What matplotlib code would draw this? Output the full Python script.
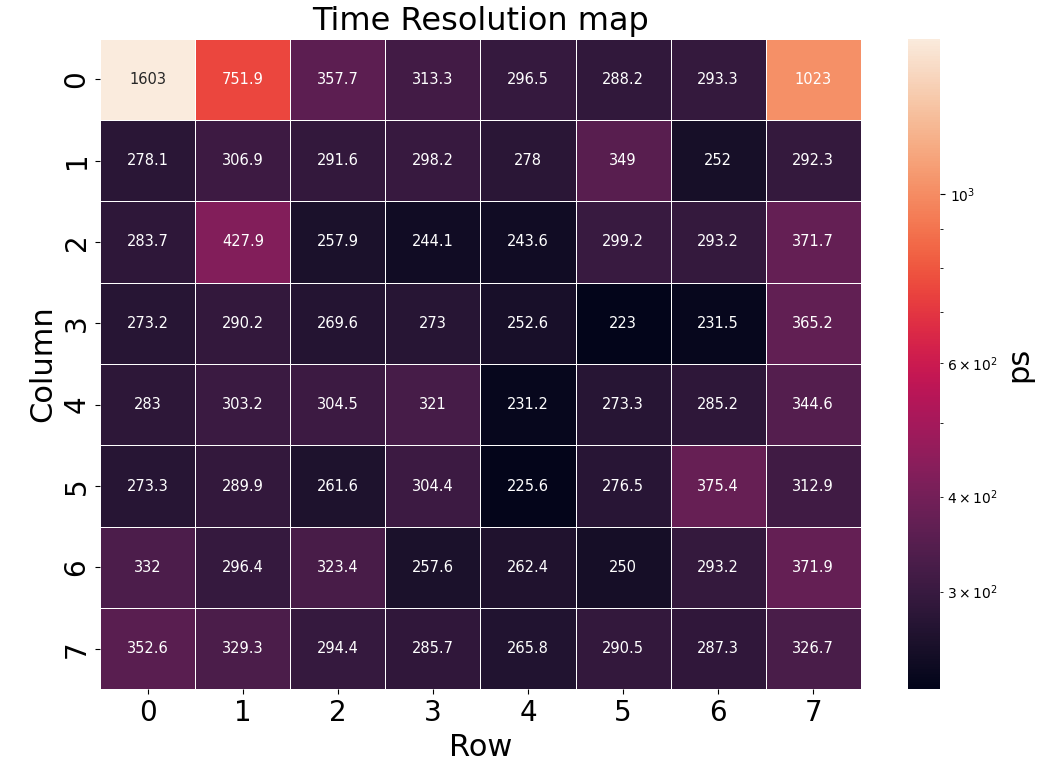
import numpy as np
import matplotlib.pyplot as plt
import seaborn as sns
from matplotlib.colors import LogNorm

# time resolution per channel (ps), rows = Column index, cols = Row index
row0 = [1603, 751.9, 357.7, 313.3, 296.5, 288.2, 293.3, 1023]
row1 = [278.1, 306.9, 291.6, 298.2, 278, 349, 252, 292.3]
row2 = [283.7, 427.9, 257.9, 244.1, 243.6, 299.2, 293.2, 371.7]
row3 = [273.2, 290.2, 269.6, 273, 252.6, 223, 231.5, 365.2]
row4 = [283, 303.2, 304.5, 321, 231.2, 273.3, 285.2, 344.6]
row5 = [273.3, 289.9, 261.6, 304.4, 225.6, 276.5, 375.4, 312.9]
row6 = [332, 296.4, 323.4, 257.6, 262.4, 250, 293.2, 371.9]
row7 = [352.6, 329.3, 294.4, 285.7, 265.8, 290.5, 287.3, 326.7]

data = np.array([row0, row1, row2, row3, row4, row5, row6, row7])

fig = plt.figure(figsize=(10.56, 7.72), dpi=100)
ax = fig.add_axes([0.095, 0.107, 0.72, 0.843])
cax = fig.add_axes([0.86, 0.107, 0.03, 0.843])

sns.heatmap(data, ax=ax, cbar_ax=cax, norm=LogNorm(vmin=data.min(), vmax=data.max()),
            annot=True, fmt='.4g', linewidths=0.6, linecolor='white',
            annot_kws={'fontsize': 10.5})

ax.set_title('Time Resolution map', fontsize=23)
ax.set_xlabel('Row', fontsize=22)
ax.set_ylabel('Column', fontsize=22)
ax.tick_params(axis='both', labelsize=20)
cax.set_ylabel('ps', fontsize=22)
cax.tick_params(labelsize=10)

plt.savefig('out.png', dpi=100)
